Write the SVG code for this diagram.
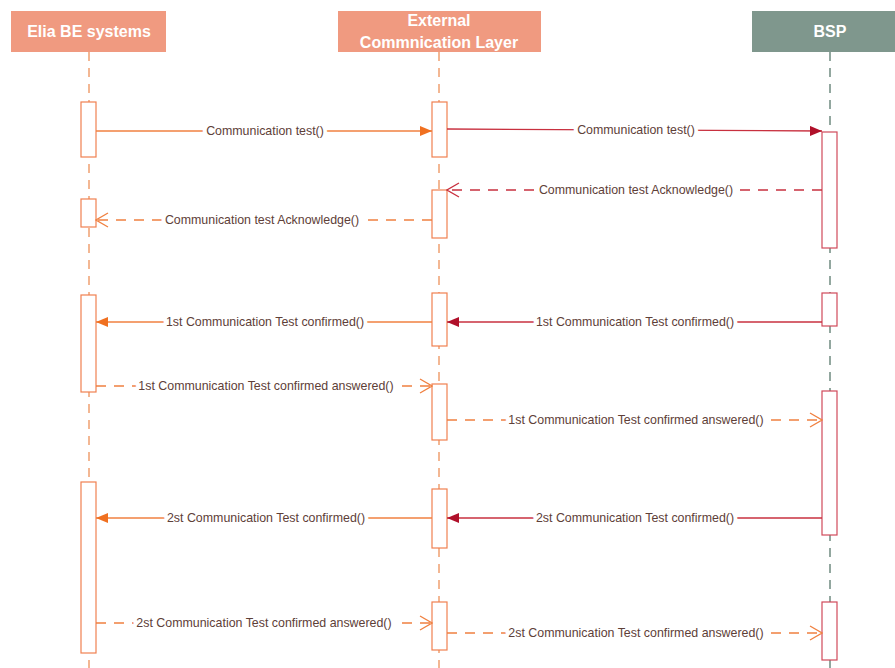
<svg xmlns="http://www.w3.org/2000/svg" width="895" height="668" viewBox="0 0 895 668">
<defs>
<style>
.hdr{fill:#f09a80}
.hdrG{fill:#7f978d}
.ht{font-family:"Liberation Sans",Arial,sans-serif;font-weight:bold;font-size:16px;fill:#ffffff;text-anchor:middle}
.ll{stroke:#f0a070;stroke-width:1.5;stroke-dasharray:9 7;fill:none}
.llG{stroke:#6f8a80;stroke-width:1.5;stroke-dasharray:9 7;fill:none}
.act{fill:#ffffff;stroke:#f08050;stroke-width:1.2}
.actR{fill:#ffffff;stroke:#d04a5a;stroke-width:1.2}
.mo{stroke:#f08040;stroke-width:1.3;fill:none}
.mr{stroke:#c8303f;stroke-width:1.3;fill:none}
.dash{stroke-dasharray:10 8}
.lbl{font-family:"Liberation Sans",Arial,sans-serif;font-size:12.4px;fill:#5e4038;text-anchor:middle;stroke:#ffffff;stroke-width:8;paint-order:stroke;stroke-linejoin:round}
</style>
<marker id="fo" markerWidth="12" markerHeight="10" refX="12" refY="5" orient="auto" markerUnits="userSpaceOnUse"><path d="M0,0 L12,5 L0,10 Z" fill="#f07020"/></marker>
<marker id="fr" markerWidth="12" markerHeight="10" refX="12" refY="5" orient="auto" markerUnits="userSpaceOnUse"><path d="M0,0 L12,5 L0,10 Z" fill="#b0102a"/></marker>
<marker id="oo" markerWidth="14" markerHeight="16" refX="13" refY="8" orient="auto" markerUnits="userSpaceOnUse"><path d="M1,1 L13,8 L1,15" fill="none" stroke="#f08040" stroke-width="1.3"/></marker>
<marker id="or" markerWidth="14" markerHeight="16" refX="13" refY="8" orient="auto" markerUnits="userSpaceOnUse"><path d="M1,1 L13,8 L1,15" fill="none" stroke="#c8303f" stroke-width="1.3"/></marker>
</defs>
<rect width="895" height="668" fill="#ffffff"/>

<g id="elia">
<rect class="hdr" x="11" y="11" width="155" height="41"/>
<text class="ht" x="89" y="37">Elia BE systems</text>
<line class="ll" x1="89" y1="52" x2="89" y2="668"/>
<rect class="act" x="81" y="102" width="15" height="55"/>
<rect class="act" x="81" y="199" width="15" height="28"/>
<rect class="act" x="81" y="295" width="15" height="97"/>
<rect class="act" x="81" y="482" width="15" height="171"/>
</g>

<g id="ecl">
<rect class="hdr" x="338" y="11" width="203" height="41"/>
<text class="ht" x="439" y="26">External</text>
<text class="ht" x="439" y="48">Commnication Layer</text>
<line class="ll" x1="439" y1="52" x2="439" y2="668"/>
<rect class="act" x="432" y="102" width="15" height="55"/>
<rect class="act" x="432" y="190" width="15" height="48"/>
<rect class="act" x="432" y="293" width="15" height="53"/>
<rect class="act" x="432" y="384" width="15" height="56"/>
<rect class="act" x="432" y="489" width="15" height="59"/>
<rect class="act" x="432" y="602" width="15" height="48"/>
</g>

<g id="bsp">
<rect class="hdrG" x="752" y="11" width="143" height="41"/>
<text class="ht" x="830" y="37">BSP</text>
<line class="llG" x1="830" y1="52" x2="830" y2="668"/>
<rect class="actR" x="822" y="132" width="15" height="116"/>
<rect class="actR" x="822" y="293" width="15" height="33"/>
<rect class="actR" x="822" y="391" width="15" height="144"/>
<rect class="actR" x="822" y="602" width="15" height="58"/>
</g>

<g id="connectors">
<line class="mo" x1="96" y1="131" x2="432" y2="131" marker-end="url(#fo)"/>
<text class="lbl" x="265" y="135">Communication test()</text>

<line class="mr" x1="447" y1="129" x2="822" y2="131" marker-end="url(#fr)"/>
<text class="lbl" x="636" y="134">Communication test()</text>

<line class="mr dash" x1="822" y1="190" x2="447" y2="190" marker-end="url(#or)"/>
<text class="lbl" x="636" y="194">Communication test Acknowledge()</text>

<line class="mo dash" x1="432" y1="220" x2="96" y2="220" marker-end="url(#oo)"/>
<text class="lbl" x="262" y="224">Communication test Acknowledge()</text>

<line class="mr" x1="822" y1="322" x2="447" y2="322" marker-end="url(#fr)"/>
<text class="lbl" x="635" y="326">1st Communication Test confirmed()</text>

<line class="mo" x1="432" y1="322" x2="96" y2="322" marker-end="url(#fo)"/>
<text class="lbl" x="265" y="326">1st Communication Test confirmed()</text>

<line class="mo dash" x1="96" y1="386" x2="432" y2="386" marker-end="url(#oo)"/>
<text class="lbl" x="266" y="390">1st Communication Test confirmed answered()</text>

<line class="mo dash" x1="447" y1="420" x2="822" y2="420" marker-end="url(#oo)"/>
<text class="lbl" x="636" y="424">1st Communication Test confirmed answered()</text>

<line class="mr" x1="822" y1="518" x2="447" y2="518" marker-end="url(#fr)"/>
<text class="lbl" x="635" y="522">2st Communication Test confirmed()</text>

<line class="mo" x1="432" y1="518" x2="96" y2="518" marker-end="url(#fo)"/>
<text class="lbl" x="266" y="522">2st Communication Test confirmed()</text>

<line class="mo dash" x1="96" y1="623" x2="432" y2="623" marker-end="url(#oo)"/>
<text class="lbl" x="264" y="627">2st Communication Test confirmed answered()</text>

<line class="mo dash" x1="447" y1="633" x2="822" y2="633" marker-end="url(#oo)"/>
<text class="lbl" x="636" y="637">2st Communication Test confirmed answered()</text>
</g>
</svg>
